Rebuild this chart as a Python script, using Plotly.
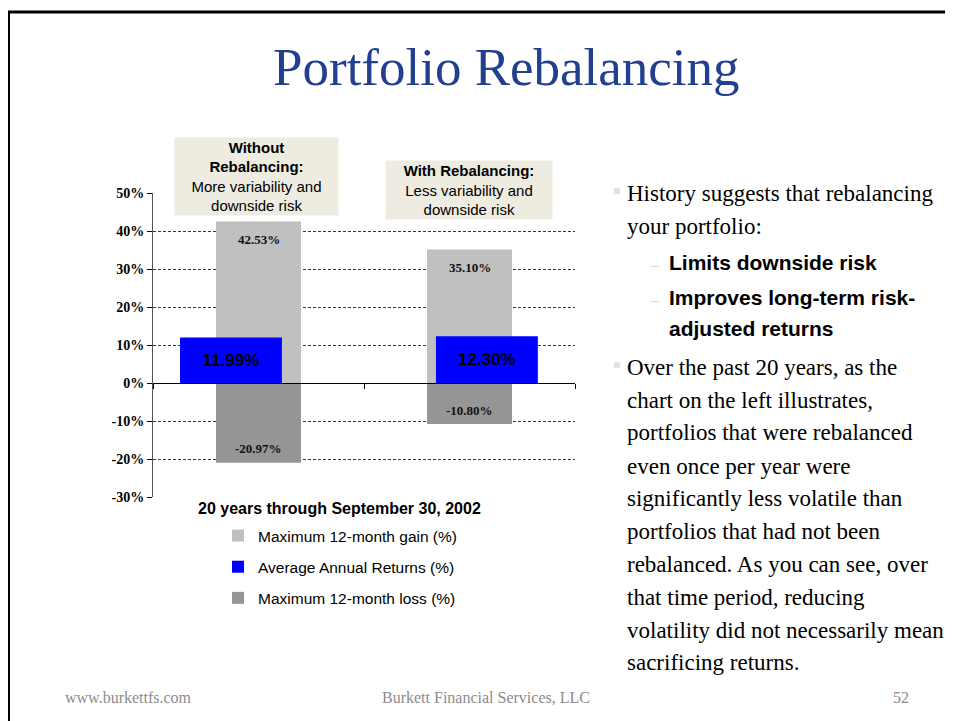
import plotly.graph_objects as go

W, H = 953, 721
OFF = 8  # page body margin shifts the figure by this much on screen

categories = ["Without Rebalancing", "With Rebalancing"]
max_gain = [42.53, 35.10]
avg_return = [11.99, 12.30]
max_loss = [-20.97, -10.80]

tick_vals = [-30, -20, -10, 0, 10, 20, 30, 40, 50]
tick_text = ["-30%", "-20%", "-10%", "0%", "10%", "20%", "30%", "40%", "50%"]

box_texts = [
    "<b>Without<br>Rebalancing:</b><br>More variability and<br>downside risk",
    "<b>With Rebalancing:</b><br>Less variability and<br>downside risk",
]

# (kind, text) kind: "p" = paragraph start, "c" = continuation, "s" = sub bullet, "sc" = sub continuation
side_lines = [
    ("p", "History suggests that rebalancing"),
    ("c", "your portfolio:"),
    ("s", "Limits downside risk"),
    ("s", "Improves long-term risk-"),
    ("sc", "adjusted returns"),
    ("p", "Over the past 20 years, as the"),
    ("c", "chart on the left illustrates,"),
    ("c", "portfolios that were rebalanced"),
    ("c", "even once per year were"),
    ("c", "significantly less volatile than"),
    ("c", "portfolios that had not been"),
    ("c", "rebalanced. As you can see, over"),
    ("c", "that time period, reducing"),
    ("c", "volatility did not necessarily mean"),
    ("c", "sacrificing returns."),
]
side_y = [193, 227, 262, 297, 328, 367, 400, 433, 466, 498, 531, 564, 597, 630, 662]

SERIF = "Liberation Serif, Times New Roman, serif"
SANS = "Liberation Sans, Arial, sans-serif"


def px(x):
    return (x - OFF) / W


def py(y):
    return 1 - (y - OFF) / H


fig = go.Figure()
fig.add_trace(go.Bar(
    x=categories, y=max_gain, name="Maximum 12-month gain (%)",
    marker=dict(color="#C0C0C0", line=dict(width=0)), width=0.403,
    legendgroup="g", hoverinfo="skip",
))
fig.add_trace(go.Bar(
    x=categories, y=avg_return, name="Average Annual Returns (%)",
    marker=dict(color="#0000FF", line=dict(width=0)),
    width=0.483, offset=[-0.372, -0.159],
    text=[f"{v:.2f}%" for v in avg_return], textposition="inside",
    insidetextanchor="middle", textangle=0,
    textfont=dict(family=SANS, size=17, color="black", weight="bold"),
    legendgroup="a", hoverinfo="skip",
))
fig.add_trace(go.Bar(
    x=categories, y=max_loss, name="Maximum 12-month loss (%)",
    marker=dict(color="#969696", line=dict(width=0)), width=0.403,
    legendgroup="l", hoverinfo="skip",
))

annotations = []
# gray bar value labels
for c, g, l in zip(categories, max_gain, max_loss):
    annotations.append(dict(
        x=c, y=g, xref="x", yref="y", text=f"<b>{g:.2f}%</b>", showarrow=False,
        xanchor="center", yanchor="middle", yshift=-18,
        font=dict(family=SERIF, size=13, color="#111"),
    ))
    annotations.append(dict(
        x=c, y=l, xref="x", yref="y", text=f"<b>{l:.2f}%</b>", showarrow=False,
        xanchor="center", yanchor="middle", yshift=14,
        font=dict(family=SERIF, size=13, color="#111"),
    ))

# beige callout boxes
box_geom = [(256.5, 176.5, 163, 77), (469, 190, 166, 58)]
for t, (cx, cy, bw, bh) in zip(box_texts, box_geom):
    annotations.append(dict(
        x=px(cx), y=py(cy), xref="paper", yref="paper", text=t, showarrow=False,
        xanchor="center", yanchor="middle",
        width=bw, height=bh, bgcolor="#EEECE1", borderpad=0, align="center",
        font=dict(family=SANS, size=15, color="black"),
    ))

# chart caption below
annotations.append(dict(
    x=px(339), y=py(508), xref="paper", yref="paper", xanchor="center", yanchor="middle",
    text="<b>20 years through September 30, 2002</b>", showarrow=False,
    font=dict(family=SANS, size=16, color="black"),
))

# title
annotations.append(dict(
    x=px(506), y=py(67), xref="paper", yref="paper", xanchor="center", yanchor="middle",
    text="Portfolio Rebalancing", showarrow=False,
    font=dict(family=SERIF, size=53, color="#22408F"),
))

# right-side text
for (kind, t), y in zip(side_lines, side_y):
    if kind in ("p", "c"):
        annotations.append(dict(
            x=px(625), y=py(y), xref="paper", yref="paper", text=t, showarrow=False,
            xanchor="left", yanchor="middle",
            font=dict(family=SERIF, size=23, color="black"),
        ))
        if kind == "p":
            annotations.append(dict(
                x=px(611), y=py(y - 2), xref="paper", yref="paper", text="■", showarrow=False,
                xanchor="left", yanchor="middle",
                font=dict(family=SANS, size=12, color="#E4E1D5"),
            ))
    else:
        annotations.append(dict(
            x=px(667), y=py(y), xref="paper", yref="paper", text=f"<b>{t}</b>",
            showarrow=False, xanchor="left", yanchor="middle",
            font=dict(family=SANS, size=21, color="black"),
        ))
        if kind == "s":
            annotations.append(dict(
                x=px(649), y=py(y + 3), xref="paper", yref="paper", text="–", showarrow=False,
                xanchor="left", yanchor="middle",
                font=dict(family=SANS, size=14, color="#D8D5CA"),
            ))

# footer
footer_font = dict(family=SERIF, size=16, color="#8C8C8C")
annotations += [
    dict(x=px(63), y=py(697), xref="paper", yref="paper", text="www.burkettfs.com",
         showarrow=False, xanchor="left", yanchor="middle", font=footer_font),
    dict(x=px(486), y=py(697), xref="paper", yref="paper",
         text="Burkett Financial Services, LLC", showarrow=False,
         xanchor="center", yanchor="middle", font=footer_font),
    dict(x=px(911), y=py(697), xref="paper", yref="paper", text="52",
         showarrow=False, xanchor="right", yanchor="middle", font=footer_font),
]

# slide frame: top and left rules
shapes = [
    dict(type="line", xref="paper", yref="paper", x0=px(6), x1=1.02, y0=py(12), y1=py(12),
         line=dict(color="black", width=3)),
    dict(type="line", xref="paper", yref="paper", x0=px(8.5), x1=px(8.5), y0=py(11), y1=-0.02,
         line=dict(color="black", width=3)),
]

y_dom = [py(497), py(193)]
zero_pos = y_dom[0] + (0 - (-30)) / 80 * (y_dom[1] - y_dom[0])

fig.update_layout(
    width=W, height=H, autosize=False,
    margin=dict(l=0, r=0, t=0, b=0, autoexpand=False),
    paper_bgcolor="white", plot_bgcolor="white",
    barmode="overlay",
    xaxis=dict(
        type="category", domain=[px(153), px(575)], range=[-0.5, 1.5],
        anchor="free", position=zero_pos, automargin=False,
        showline=True, linecolor="black", linewidth=1,
        showticklabels=False, ticks="outside", tickson="boundaries",
        ticklen=5, tickcolor="black", showgrid=False,
    ),
    yaxis=dict(
        domain=y_dom, range=[-30, 50], tickvals=tick_vals, ticktext=tick_text,
        automargin=False,
        showline=True, linecolor="#555555", linewidth=1,
        ticks="outside", ticklen=5, tickcolor="black",
        showgrid=True, gridcolor="#800080", gridwidth=1, griddash="3px,2px",
        zeroline=False,
        tickfont=dict(family=SERIF, size=14, color="black", weight="bold"),
    ),
    legend=dict(
        x=px(218), y=py(519), xanchor="left", yanchor="top",
        font=dict(family=SANS, size=15.5, color="black"),
        traceorder="grouped", tracegroupgap=8, bgcolor="rgba(0,0,0,0)",
    ),
    showlegend=True,
    annotations=annotations,
    shapes=shapes,
)

fig.write_html("out.html")
